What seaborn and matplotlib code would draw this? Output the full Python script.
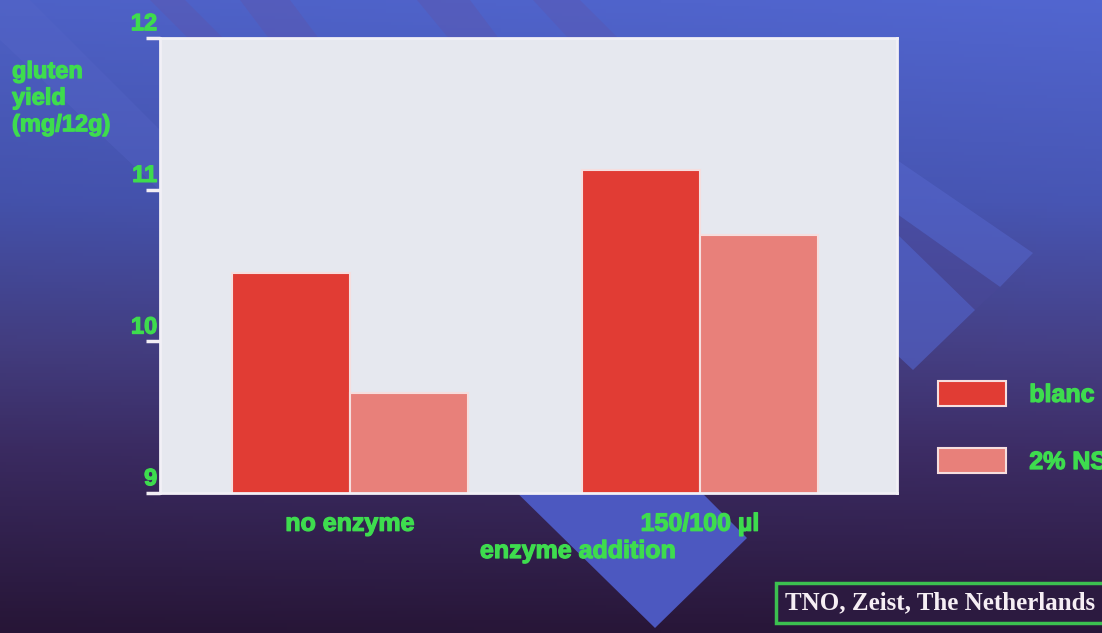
import numpy as np
import pandas as pd
import seaborn as sns
import matplotlib.pyplot as plt
from matplotlib.patches import Polygon
import matplotlib.patheffects as pe
import matplotlib.transforms as mtransforms

# data
conditions = ["no enzyme", "150/100 µl"]
treatments = ["blanc", "2% NSP"]
blanc_yield = [10.45, 11.13]
nsp_yield = [9.66, 10.70]
y_ticks = [9, 10, 11, 12]
y_tick_labels = ["9", "10", "11", "12"]

df = pd.DataFrame({
    "enzyme": conditions * 2,
    "treatment": [treatments[0]] * 2 + [treatments[1]] * 2,
    "gluten": blanc_yield + nsp_yield,
})

green = "#3edc4e"
bar_colors = ["#e13c34", "#e8807a"]
heavy = [pe.withStroke(linewidth=0.9, foreground=green)]

sns.set_style("white")
plt.rcParams["font.family"] = ["Liberation Sans", "DejaVu Sans"]

fig = plt.figure(figsize=(11.02, 6.33), dpi=100)

# slide background: blue-to-purple gradient with decorative shapes
bg = fig.add_axes([0, 0, 1, 1])
bg.set_xlim(0, 1102)
bg.set_ylim(633, 0)
bg.axis("off")
ys = np.linspace(0, 633, 200)
stops = [0, 200, 350, 450, 633]
r = np.interp(ys, stops, [80, 70, 68, 60, 40])
g = np.interp(ys, stops, [100, 84, 62, 44, 22])
b = np.interp(ys, stops, [204, 176, 130, 100, 56])
col = np.stack([r, g, b], axis=1)[:, None, :] / 255.0
xs = np.linspace(0, 1, 200)[None, :, None]
grad = np.clip(col * (0.97 + 0.05 * xs), 0, 1)
bg.imshow(grad, extent=[0, 1102, 633, 0], aspect="auto", zorder=0)

shapes = [
    # lighter corner top-left
    ([(0, 0), (30, 0), (170, 140), (170, 200), (0, 40)], "#5766c8", 0.35),
    # darker slanted bands above the chart
    ([(150, 0), (185, 0), (225, 40), (190, 40)], "#5c56ae", 0.45),
    ([(240, 0), (290, 0), (320, 40), (270, 40)], "#5c56ae", 0.45),
    ([(417, 0), (470, 0), (500, 40), (450, 40)], "#5c56ae", 0.45),
    ([(533, 0), (580, 0), (620, 40), (570, 40)], "#5c56ae", 0.4),
    # stripes right of the chart
    ([(897, 160), (1033, 253), (1000, 287), (897, 214)], "#5666cc", 0.55),
    ([(897, 214), (1000, 287), (975, 310), (897, 234)], "#4a4898", 0.5),
    ([(897, 234), (975, 310), (913, 370), (897, 355)], "#5262c8", 0.65),
    # diamond below the chart
    ([(655, 628), (747, 538), (400, 190), (300, 280)], "#4c58c0", 1.0),
]
for pts, c, a in shapes:
    bg.add_patch(Polygon(pts, closed=True, fc=c, ec="none", alpha=a, zorder=1))

# main chart
ax = fig.add_axes([160 / 1102, 1 - 493 / 633, (897 - 160) / 1102, (493 - 38) / 633])
sns.barplot(data=df, x="enzyme", y="gluten", hue="treatment", order=conditions,
            hue_order=treatments, palette=bar_colors, saturation=1, width=0.674,
            errorbar=None, edgecolor="#f6dede", linewidth=1.5, ax=ax)
ax.set_facecolor("#e6e8ef")
ax.set_ylim(9, 12)
ax.set_xlim(-0.543, 1.563)
ax.set_yticks(y_ticks)
ax.tick_params(axis="y", left=True, length=10, width=2.5, color="#f2eef4",
               labelleft=False)
ax.set_xticks(range(len(conditions)))
ax.set_xticklabels(conditions, fontsize=18, fontweight="bold", color=green,
                   path_effects=heavy)
ax.tick_params(axis="x", bottom=False, pad=10)
for s in ax.spines.values():
    s.set_color("#f2f0f6")
    s.set_linewidth(2)
ax.set_xlabel("")
ax.set_ylabel("")

# y tick labels sit just above their ticks
trans = mtransforms.offset_copy(
    mtransforms.blended_transform_factory(ax.transAxes, ax.transData),
    fig=fig, x=-2, y=2, units="points")
for v, t in zip(y_ticks, y_tick_labels):
    ax.text(0, v, t, transform=trans, ha="right", va="bottom", fontsize=17,
            fontweight="bold", color=green, clip_on=False, path_effects=heavy)

fig.text(12 / 1102, 1 - 60 / 633, "gluten\nyield\n(mg/12g)", ha="left", va="top",
         fontsize=17, fontweight="bold", color=green, linespacing=1.2,
         path_effects=heavy)
fig.text(578 / 1102, 1 - 551 / 633, "enzyme addition", ha="center", va="center",
         fontsize=18, fontweight="bold", color=green, path_effects=heavy)

sns.move_legend(ax, "upper left", bbox_to_anchor=(938 / 1102, 1 - 381 / 633),
                bbox_transform=fig.transFigure, frameon=False, title=None,
                borderpad=0, borderaxespad=0, handlelength=2.7, handleheight=1.15,
                handletextpad=0.95, labelspacing=1.65,
                prop={"size": 18, "weight": "bold"}, labelcolor=green)
for t in ax.get_legend().get_texts():
    t.set_path_effects(heavy)

fig.text(785 / 1102, 1 - 603 / 633, "TNO, Zeist, The Netherlands", ha="left",
         va="center", fontsize=18, fontweight="bold", color="#f6eef4",
         family=["Liberation Serif", "DejaVu Serif"],
         bbox=dict(boxstyle="square,pad=0.35", fc="#2c1a40", ec="#3cc050", lw=2.5))

fig.savefig("out.png", dpi=100)
